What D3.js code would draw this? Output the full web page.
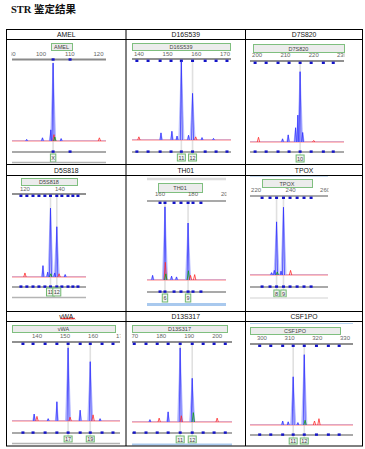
<!DOCTYPE html>
<html>
<head>
<meta charset="utf-8">
<script src="https://cdn.jsdelivr.net/npm/d3@7"></script>
<style>
body { margin: 0; background: #fff; }
svg { display: block; }
</style>
</head>
<body>
<svg id="chart" width="365" height="449"></svg>
<script>
// loci, in table order (3 x 3)
var loci = ["AMEL", "D16S539", "D7S820", "D5S818", "TH01", "TPOX", "vWA", "D13S317", "CSF1PO"];

// size range shown in each panel (bp)
var domains = [[89.9, 122.6], [137.6, 172.1], [197.5, 230.7],
               [112.6, 154.9], [152.1, 200], [216.5, 261.7],
               [131.1, 169.6], [169.6, 205.3], [295.7, 332.9]];

var tickValues = [[90, 100, 110, 120], [140, 150, 160, 170], [200, 210, 220, 230],
                  [120, 140], [160, 180, 200], [220, 240, 260],
                  [140, 150, 160, 170], [170, 180, 190, 200], [300, 310, 320, 330]];

// allele bins (blue squares)
var bins = [[104.2, 110.1],
            [139.3, 143.2, 147.4, 151.2, 154.8, 158.7, 163.1, 166.9, 170.7],
            [199.3, 203.2, 207.4, 211.3, 215.2, 219.1, 223.4, 226.9],
            [117.7, 121.1, 124.6, 128, 131.4, 134.6, 138.2, 141.1, 144.6, 147.4, 150.3],
            [160, 163, 168.5, 172.7, 177, 180, 184.8],
            [223.5, 228.1, 231.9, 235.9, 239.7, 243.8, 247.8, 251.9],
            [135, 138.6, 142.9, 147.1, 151.1, 155.4, 159, 163.2, 167.1],
            [170.4, 174.6, 178.6, 182.5, 186.8, 191.1, 195, 198.9, 202.9],
            [299.2, 303.2, 307.5, 311.3, 315.3, 319.7, 324, 327.9]];

// called alleles
var alleleNames = [["X"], ["11", "12"], ["10"], ["11", "12"], ["6", "9"], ["8", "9"], ["17", "19"], ["11", "12"], ["11", "12"]];
var alleleSizes = [[104.2], [154.8, 158.7], [215.2], [134.6, 138.2], [163, 177], [231.9, 235.9], [151.1, 159], [186.8, 191.1], [311.3, 315.3]];
// peak height, % of panel height
var alleleHeights = [[98], [99, 59], [89], [85, 62], [95, 74], [69, 88], [95, 77], [95, 56], [61, 89]];

// stutter / other dye peaks: [dye, size, height %]
var minorPeaks = [
  [["B", 103.4, 14], ["R", 104.5, 8], ["G", 104.8, 5], ["B", 100.5, 4], ["B", 107, 3], ["R", 120.3, 4], ["B", 95, 2]],
  [["R", 140, 4], ["B", 147.7, 9], ["B", 151.5, 11], ["B", 153.3, 5], ["B", 157.3, 6], ["R", 159.8, 4], ["B", 162, 3], ["B", 166, 2]],
  [["R", 200.5, 6], ["B", 211, 9], ["B", 214.4, 34], ["B", 213.6, 18], ["B", 216.1, 12], ["B", 209, 4], ["R", 220, 2]],
  [["R", 120, 5], ["B", 130.3, 14], ["B", 133, 6], ["B", 137, 5], ["G", 134.8, 4], ["R", 139.5, 4], ["B", 143, 3]],
  [["B", 155.5, 6], ["R", 163.2, 23], ["G", 163.5, 8], ["B", 167, 5], ["B", 170, 4], ["G", 177.2, 12], ["R", 178.5, 6], ["R", 181, 7]],
  [["B", 229, 3], ["B", 230.6, 6], ["G", 232.3, 4], ["B", 234.5, 5], ["R", 240, 6]],
  [["B", 139, 9], ["R", 140, 6], ["B", 144, 3], ["B", 147.1, 25], ["R", 151.8, 5], ["B", 155.4, 14], ["R", 160, 8], ["B", 162.5, 3]],
  [["B", 176, 3], ["R", 179.3, 5], ["B", 182.5, 13], ["R", 187.2, 8], ["G", 191.5, 12], ["R", 200, 5]],
  [["B", 307.5, 5], ["B", 309.5, 4], ["B", 313, 3], ["G", 315.6, 6], ["R", 319, 5], ["R", 320.6, 8]]
];

// table geometry
var colX = [6.5, 126, 245.5, 362.5];
var rowY = [[29.5, 39.5], [164.5, 175.5], [311.5, 321.5]];
var tableBottom = 446;

// panel geometry inside each cell
var layout = [
  {x0: 12, x1: 106, lb: [51, 72, 43, 50], tickY: 54, axisY: 59.5, axisCol: "#8a8a8a", base: 141, low: 152, ay: [154, 162], bottom: 162.5},
  {x0: 132, x1: 231, lb: [132, 230, 43, 50], tickY: 54, axisY: 59, axisCol: "#222", base: 140, low: 152, ay: [154, 161]},
  {x0: 250, x1: 344, lb: [253, 344, 44, 52], tickY: 55, axisY: 61, axisCol: "#222", base: 142, low: 152, ay: [155, 162]},
  {x0: 12, x1: 86, lb: [21, 77, 178, 185], tickY: 189, axisY: 194, axisCol: "#222", base: 277, low: 287, ay: [288, 296], bottom: 297.5},
  {x0: 147, x1: 226, topBand: [179, "#dcdcdc", 2.5], lb: [158, 202, 183, 192], tickY: 194, axisY: 201, axisCol: "#555", base: 280, low: 292, ay: [294, 302], band: [303, 306]},
  {x0: 250, x1: 328, topBand: [176.5, "#c8dcf0", 1], lb: [262, 312, 179, 187], tickY: 190, axisY: 196, axisCol: "#555", base: 275, low: 287, ay: [290, 297], bottom: 298, bottomCol: "#e0e0e0"},
  {x0: 12, x1: 120, lb: [12, 115, 325, 332], tickY: 336, axisY: 342, axisCol: "#222", base: 421, low: 433, ay: [436, 442], bottom: 443.5},
  {x0: 132, x1: 232, lb: [132, 227, 325, 332], tickY: 336, axisY: 342, axisCol: "#222", base: 422, low: 433, ay: [436, 443], band: [443.5, 445.5]},
  {x0: 250, x1: 353, topBand: [323.5, "#b8d4f0", 1], lb: [250, 340, 327, 334], tickY: 338, axisY: 344, axisCol: "#222", base: 425, low: 435, ay: [438, 444]}
];

var dyeColor = {B: "#3030ff", R: "#ff2a2a", G: "#12a012"};

var svg = d3.select("#chart");

// title
svg.append("text")
  .attr("x", 11).attr("y", 12.5)
  .attr("font-family", "'Liberation Serif', 'Noto Sans CJK SC', serif")
  .attr("font-weight", "bold")
  .attr("font-size", 10.5)
  .attr("fill", "#111")
  .text("STR 鉴定结果");

var drawPanel = function(i)
{
  var p = layout[i];
  var x = d3.scaleLinear().domain(domains[i]).range([p.x0, p.x1]);
  var y = d3.scaleLinear().domain([0, 100]).range([p.base, p.axisY + 2]);
  var g = svg.append("g");

  if (p.topBand) {
    g.append("line").attr("x1", p.x0).attr("x2", p.x1)
      .attr("y1", p.topBand[0]).attr("y2", p.topBand[0])
      .attr("stroke", p.topBand[1]).attr("stroke-width", p.topBand[2]);
  }

  // locus label bar
  g.append("rect")
    .attr("x", p.lb[0] + 0.5).attr("y", p.lb[2] + 0.5)
    .attr("width", p.lb[1] - p.lb[0]).attr("height", p.lb[3] - p.lb[2])
    .attr("fill", "#ececec").attr("stroke", "#7fbf7f").attr("stroke-width", 1);
  g.append("text")
    .attr("x", (p.lb[0] + p.lb[1]) / 2).attr("y", (p.lb[2] + p.lb[3]) / 2 + 2.5)
    .attr("text-anchor", "middle").attr("font-family", "Arial, 'Liberation Sans', sans-serif")
    .attr("font-size", 5.5).attr("fill", "#444")
    .text(loci[i]);

  // size ticks
  svg.append("clipPath").attr("id", "clip" + i)
    .append("rect").attr("x", p.x0 - 0.5).attr("y", p.tickY - 8)
    .attr("width", p.x1 - p.x0 + 1).attr("height", 14);
  var ax = g.append("g")
    .attr("transform", "translate(0," + p.axisY + ")")
    .attr("clip-path", "url(#clip" + i + ")")
    .call(d3.axisTop(x).tickValues(tickValues[i]).tickSize(0).tickPadding(p.axisY - p.tickY - 2.2).tickFormat(d3.format("d")));
  ax.select(".domain").remove();
  ax.selectAll("text").attr("font-size", 6).attr("fill", "#666")
    .attr("font-family", "Arial, 'Liberation Sans', sans-serif");
  ax.attr("transform", null).selectAll(".tick")
    .attr("transform", function(d) { return "translate(" + x(d) + "," + p.axisY + ")"; });

  // allele call lines
  g.selectAll(".call").data(alleleSizes[i]).enter().append("line")
    .attr("x1", function(d) { return x(d); }).attr("x2", function(d) { return x(d); })
    .attr("y1", p.axisY + 3).attr("y2", p.ay[0])
    .attr("stroke", "#e0e0e0").attr("stroke-width", 1.6);

  // upper axis line + bins
  g.append("line").attr("x1", p.x0).attr("x2", p.x1)
    .attr("y1", p.axisY).attr("y2", p.axisY)
    .attr("stroke", p.axisCol).attr("stroke-width", i == 0 ? 2 : 1.2);
  g.selectAll(".bin").data(bins[i]).enter().append("rect")
    .attr("x", function(d) { return x(d) - 1.5; })
    .attr("y", i == 0 ? p.axisY - 1.2 : p.axisY + 0.6)
    .attr("width", 3).attr("height", 2.4)
    .attr("fill", "#1414c8");

  // baseline
  g.append("line").attr("x1", p.x0).attr("x2", p.x1)
    .attr("y1", p.base).attr("y2", p.base)
    .attr("stroke", "#ff8080").attr("stroke-width", 1);
  g.append("line").attr("x1", p.x0).attr("x2", p.x1)
    .attr("y1", p.base - 0.6).attr("y2", p.base - 0.6)
    .attr("stroke", "#6a4acc").attr("stroke-width", 0.5).attr("opacity", 0.5);

  // peaks
  var peaks = alleleSizes[i].map(function(s, k) { return {dye: "B", size: s, h: alleleHeights[i][k], main: true}; });
  minorPeaks[i].forEach(function(m) { peaks.push({dye: m[0], size: m[1], h: m[2], main: false}); });

  var area = d3.area().x(function(d) { return d[0]; }).y0(p.base).y1(function(d) { return d[1]; });
  var line = d3.line();
  var spike = function(d, hw) {
    return [[x(d.size) - hw, p.base], [x(d.size), y(d.h)], [x(d.size) + hw, p.base]];
  };
  var blue = peaks.filter(function(d) { return d.dye == "B"; });

  g.selectAll(".fill").data(blue).enter().append("path")
    .attr("d", function(d) { return area(spike(d, d.main ? 2.6 : 1.6)); })
    .attr("fill", "#b4baff").attr("opacity", 0.6);
  g.selectAll(".edge").data(blue).enter().append("path")
    .attr("d", function(d) { return line(spike(d, d.main ? 2.6 : 1.6)); })
    .attr("fill", "none").attr("stroke", "#8890ff").attr("stroke-width", 0.5);
  g.selectAll(".pk").data(blue).enter().append("path")
    .attr("d", function(d) { return line(spike(d, d.main ? 1 : 0.8)); })
    .attr("fill", "none").attr("stroke", dyeColor.B).attr("stroke-width", 0.75);
  g.selectAll(".pk2").data(peaks.filter(function(d) { return d.dye != "B"; })).enter().append("path")
    .attr("d", function(d) { return line(spike(d, 1.2)); })
    .attr("fill", "none").attr("stroke", function(d) { return dyeColor[d.dye]; }).attr("stroke-width", 0.8);

  // lower axis + bins
  g.append("line").attr("x1", p.x0).attr("x2", p.x1)
    .attr("y1", p.low).attr("y2", p.low)
    .attr("stroke", "#8c8c8c").attr("stroke-width", 1.3);
  g.selectAll(".bin2").data(bins[i]).enter().append("rect")
    .attr("x", function(d) { return x(d) - 1.5; }).attr("y", p.low - 1.6)
    .attr("width", 3).attr("height", 2.4)
    .attr("fill", "#1414c8");

  // allele boxes
  var boxes = g.selectAll(".allele").data(alleleSizes[i]).enter().append("g");
  boxes.append("rect")
    .attr("x", function(d, k) { return x(d) - (alleleNames[i][k].length > 1 ? 4 : 2.7); })
    .attr("y", p.ay[0])
    .attr("width", function(d, k) { return alleleNames[i][k].length > 1 ? 8 : 5.4; })
    .attr("height", p.ay[1] - p.ay[0])
    .attr("fill", "#f2f2f2").attr("stroke", "#6fb86f").attr("stroke-width", 1);
  boxes.append("text")
    .attr("x", function(d) { return x(d); })
    .attr("y", (p.ay[0] + p.ay[1]) / 2 + 2)
    .attr("text-anchor", "middle").attr("font-size", 5.5).attr("fill", "#444")
    .attr("font-family", "Arial, 'Liberation Sans', sans-serif")
    .text(function(d, k) { return alleleNames[i][k]; });

  if (p.bottom) {
    g.append("line").attr("x1", p.x0).attr("x2", p.x1)
      .attr("y1", p.bottom).attr("y2", p.bottom)
      .attr("stroke", p.bottomCol || "#b4b4b4").attr("stroke-width", 1.3);
  }
  if (p.band) {
    g.append("rect").attr("x", p.x0).attr("y", p.band[0])
      .attr("width", p.x1 - p.x0).attr("height", p.band[1] - p.band[0])
      .attr("fill", "#a9c9ee");
  }
};

loci.forEach(function(l, i) { drawPanel(i); });

// table lines
var grid = svg.append("g").attr("stroke", "#000").attr("stroke-width", 1).attr("fill", "none");
grid.append("rect").attr("x", colX[0]).attr("y", rowY[0][0])
  .attr("width", colX[3] - colX[0]).attr("height", tableBottom - rowY[0][0]);
[1, 2].forEach(function(c) {
  grid.append("line").attr("x1", colX[c]).attr("x2", colX[c]).attr("y1", rowY[0][0]).attr("y2", tableBottom);
});
rowY.forEach(function(r) {
  r.forEach(function(yy) {
    grid.append("line").attr("x1", colX[0]).attr("x2", colX[3]).attr("y1", yy).attr("y2", yy);
  });
});

// header labels
loci.forEach(function(l, i) {
  var c = i % 3, r = Math.floor(i / 3);
  svg.append("text")
    .attr("x", (colX[c] + colX[c + 1]) / 2)
    .attr("y", (rowY[r][0] + rowY[r][1]) / 2 + 2.5)
    .attr("text-anchor", "middle")
    .attr("font-family", "Arial, 'Liberation Sans', sans-serif")
    .attr("font-size", 6.8).attr("fill", "#111")
    .text(l);
});

// spell-check squiggle under vWA
var sq = [];
for (var k = 0; k <= 14; k++) sq.push([61 + k, 318.6 + (k % 2 ? -0.8 : 0.8)]);
svg.append("path").attr("d", d3.line()(sq))
  .attr("fill", "none").attr("stroke", "#e00000").attr("stroke-width", 0.7);
</script>
</body>
</html>
